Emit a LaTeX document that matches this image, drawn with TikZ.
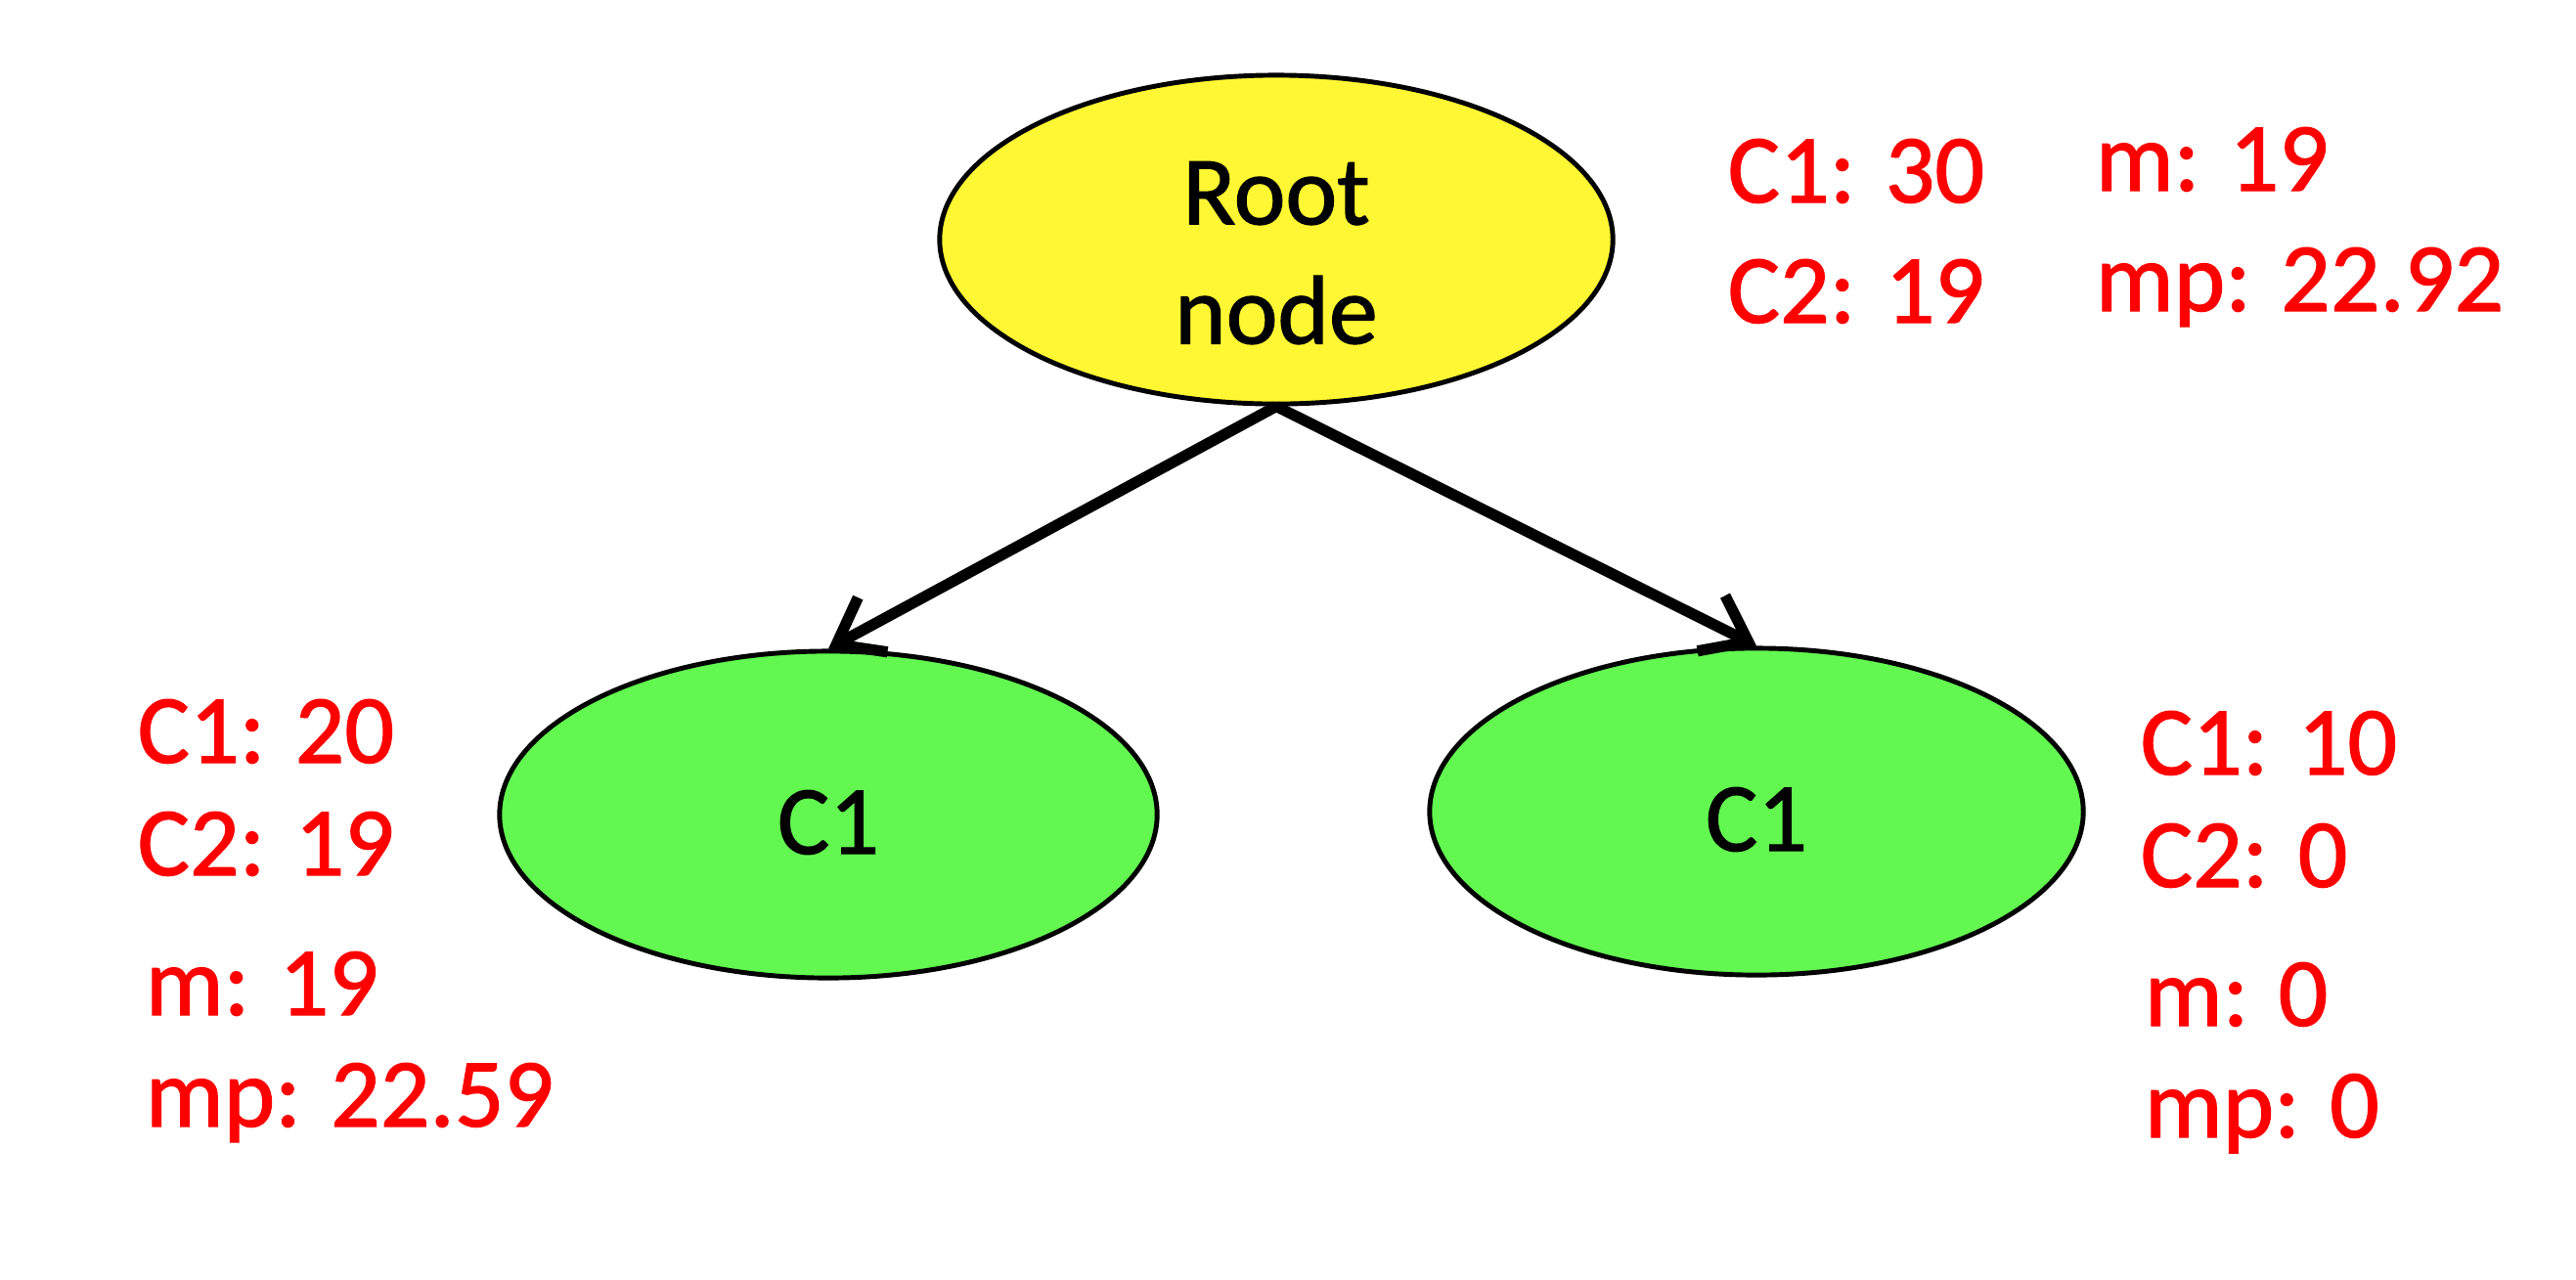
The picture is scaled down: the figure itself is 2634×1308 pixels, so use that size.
\documentclass[tikz,border=0pt]{standalone}
\usepackage{fontspec}
\setmainfont[FakeBold=1.2]{Carlito}
\usetikzlibrary{shapes.geometric,arrows.meta}
\definecolor{rootyellow}{RGB}{255,247,51}
\definecolor{leafgreen}{RGB}{98,248,80}
\definecolor{labelred}{RGB}{255,0,0}
\begin{document}
\begin{tikzpicture}[x=0.01cm,y=-0.01cm,
  treenode/.style={ellipse,draw=black,line width=1.4pt,inner sep=0pt,align=center,
    font=\fontsize{28.45}{34.7}\selectfont},
  stat/.style={anchor=base west,inner sep=0pt,text=labelred,
    font=\fontsize{28.45}{34.7}\selectfont},
  edge/.style={line width=3.2pt,-{Straight Barb[length=12pt,width=18pt]}}]
\useasboundingbox (0,0) rectangle (2634,1308);
\node[treenode,fill=rootyellow,minimum width=6.88cm,minimum height=3.36cm] (root) at (1305,245) {\rule{0pt}{26pt}Root\\node};
\node[treenode,fill=leafgreen,minimum width=6.72cm,minimum height=3.34cm] (left) at (847,833) {\rule{0pt}{23pt}C1};
\node[treenode,fill=leafgreen,minimum width=6.68cm,minimum height=3.34cm] (right) at (1796,830) {\rule{0pt}{23pt}C1};
\draw[edge] (root.south) -- (left.north);
\draw[edge] (root.south) -- (right.north);
\node[stat] (r1) at (1766,207) {C1: 30};
\node[stat] (r2) at (1766,330) {C2: 19};
\node[stat] (r3) at (2142,195) {m: 19};
\node[stat] (r4) at (2142,318) {mp: 22.92};
\node[stat] (l1) at (140,780) {C1: 20};
\node[stat] (l2) at (140,895) {C2: 19};
\node[stat] (l3) at (148,1038) {m: 19};
\node[stat] (l4) at (148,1152) {mp: 22.59};
\node[stat] (q1) at (2188,792) {C1: 10};
\node[stat] (q2) at (2188,907) {C2: 0};
\node[stat] (q3) at (2192,1049) {m: 0};
\node[stat] (q4) at (2192,1163) {mp: 0};
\end{tikzpicture}
\end{document}
